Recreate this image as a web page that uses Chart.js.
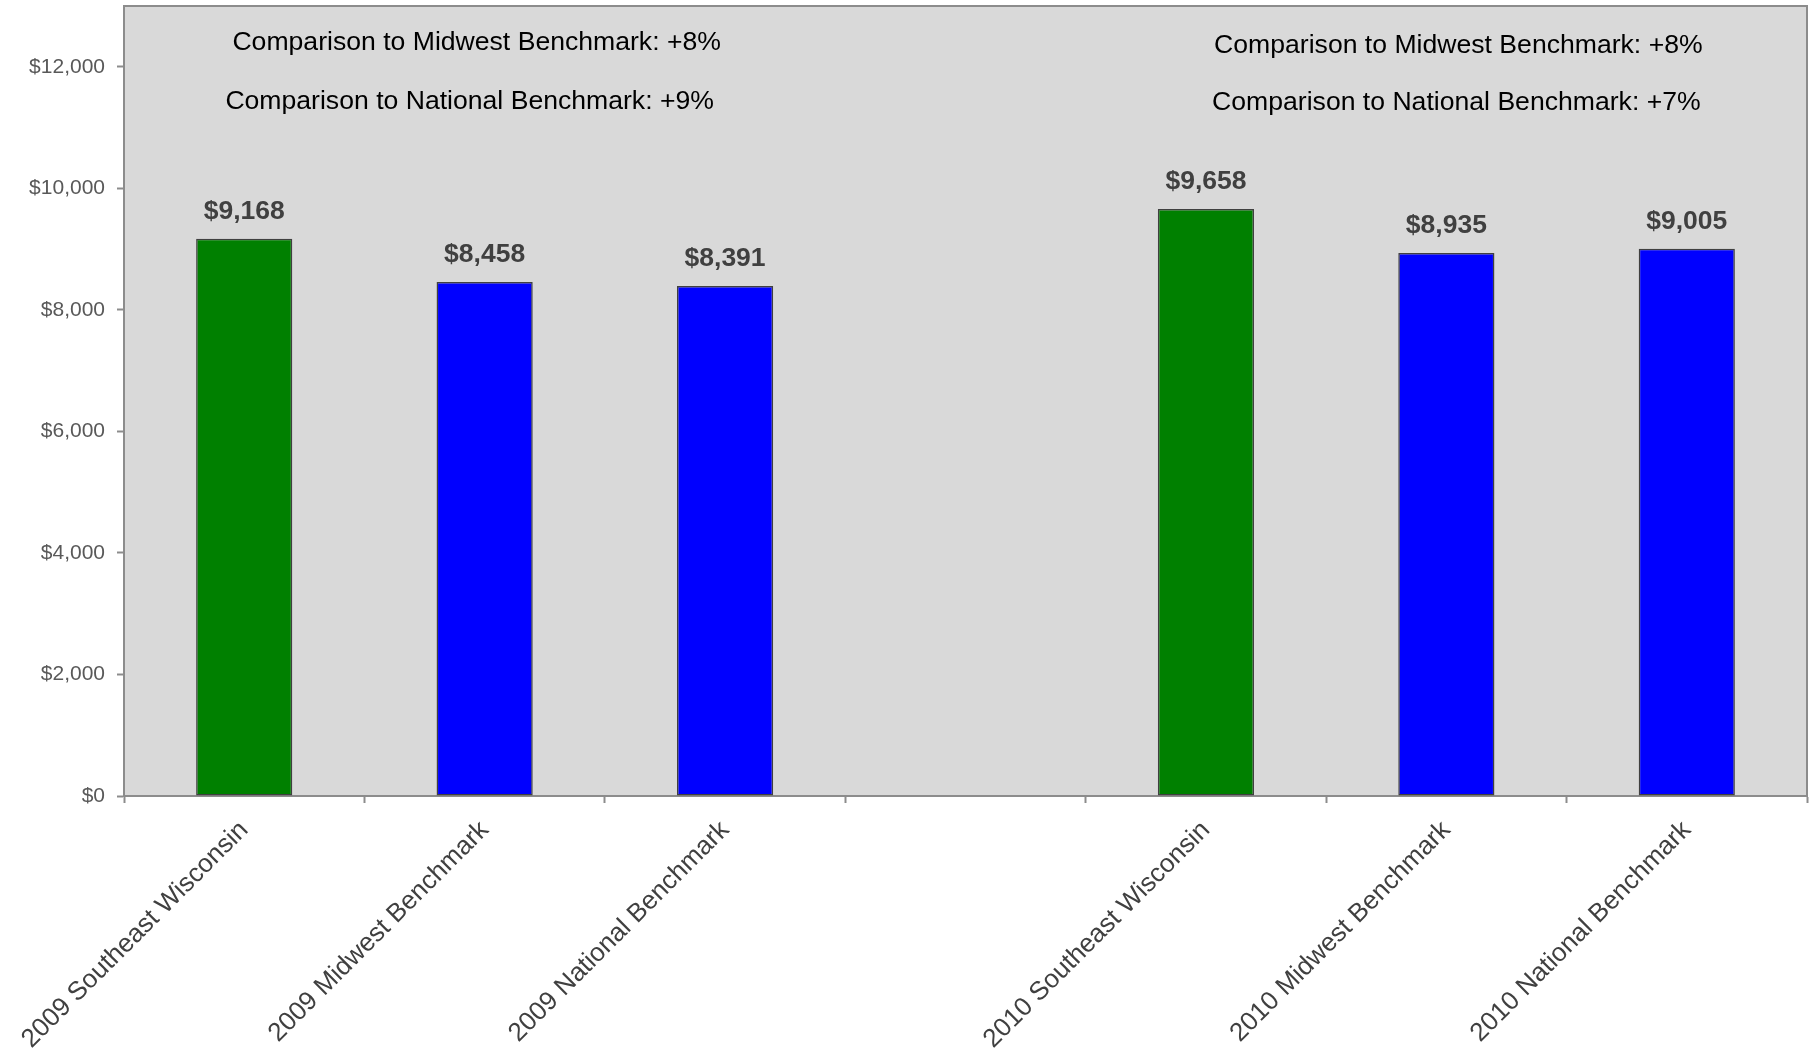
<!DOCTYPE html>
<html>
<head>
<meta charset="utf-8">
<script src="https://cdn.jsdelivr.net/npm/chart.js@4"></script>
<style>
  html, body { margin: 0; padding: 0; background: #ffffff; }
  #wrap { width: 1813px; height: 1051px; position: relative; }
</style>
</head>
<body>
<div id="wrap"><canvas id="chart"></canvas></div>
<script>
// Categorias (a posição vazia separa 2009 de 2010)
const categories = [
    '2009 Southeast Wisconsin', '2009 Midwest Benchmark', '2009 National Benchmark',
    '',
    '2010 Southeast Wisconsin', '2010 Midwest Benchmark', '2010 National Benchmark'
];
const values = [9168, 8458, 8391, null, 9658, 8935, 9005];
const barColors = ['#008000', '#0000ff', '#0000ff', '#0000ff', '#008000', '#0000ff', '#0000ff'];
const yTickValues = [0, 2000, 4000, 6000, 8000, 10000, 12000];

// Textos de comparação acima de cada grupo
const notes2009 = ['Comparison to Midwest Benchmark: +8%', 'Comparison to National Benchmark: +9%'];
const notes2010 = ['Comparison to Midwest Benchmark: +8%', 'Comparison to National Benchmark: +7%'];

const FONT = '"Liberation Sans", Arial, sans-serif';
const money = v => '$' + Number(v).toLocaleString('en-US');

// Fundo cinza e moldura da área do gráfico
const plotBackground = {
    id: 'plotBackground',
    beforeDraw(chart) {
        const { ctx, chartArea: a } = chart;
        ctx.save();
        ctx.fillStyle = '#d9d9d9';
        ctx.fillRect(a.left, a.top, a.right - a.left, a.bottom - a.top);
        ctx.strokeStyle = '#8c8c8c';
        ctx.lineWidth = 2;
        ctx.strokeRect(a.left, a.top, a.right - a.left, a.bottom - a.top);
        ctx.restore();
    }
};

// Rótulos de valor em cima das barras + notas de comparação
const valueLabels = {
    id: 'valueLabels',
    afterDatasetsDraw(chart) {
        const { ctx, chartArea: a } = chart;
        const meta = chart.getDatasetMeta(0);
        ctx.save();
        ctx.font = 'bold 26.5px ' + FONT;
        ctx.fillStyle = '#404040';
        ctx.textAlign = 'center';
        ctx.textBaseline = 'middle';
        meta.data.forEach((bar, i) => {
            if (values[i] == null) return;
            ctx.fillText(money(values[i]), bar.x, bar.y - 27);
        });

        const x = chart.scales.x;
        ctx.font = '26.6px ' + FONT;
        ctx.fillStyle = '#000000';
        notes2009.forEach((t, i) => {
            ctx.fillText(t, x.getPixelForValue(1) - 8 - i * 7, a.top + 37 + i * 59);
        });
        notes2010.forEach((t, i) => {
            ctx.fillText(t, x.getPixelForValue(5) + 12 - i * 2, a.top + 40 + i * 57);
        });
        ctx.restore();
    }
};

new Chart(document.getElementById('chart'), {
    type: 'bar',
    data: {
        labels: categories,
        datasets: [{
            data: values,
            backgroundColor: barColors,
            borderColor: '#404040',
            borderWidth: 1.5,
            borderSkipped: false,
            barPercentage: 0.8,
            categoryPercentage: 0.5
        }]
    },
    options: {
        responsive: true,
        maintainAspectRatio: false,
        animation: false,
        layout: { padding: { top: 6, right: 6, left: 0, bottom: 0 } },
        plugins: {
            legend: { display: false },
            tooltip: { enabled: false }
        },
        scales: {
            x: {
                grid: {
                    offset: true,
                    drawOnChartArea: false,
                    tickLength: 7,
                    tickColor: '#8c8c8c',
                    tickWidth: 2
                },
                border: { color: '#8c8c8c', width: 2 },
                ticks: {
                    minRotation: 45,
                    maxRotation: 45,
                    autoSkip: false,
                    padding: 12,
                    color: '#404040',
                    font: { family: FONT, size: 26 }
                },
                afterFit(scale) { scale.height = 255; }
            },
            y: {
                min: 0,
                max: 13000,
                grid: {
                    drawOnChartArea: false,
                    tickLength: 7,
                    tickColor: '#8c8c8c',
                    tickWidth: 2
                },
                border: { color: '#8c8c8c', width: 2 },
                afterBuildTicks(scale) {
                    scale.ticks = yTickValues.map(v => ({ value: v }));
                },
                ticks: {
                    padding: 12,
                    color: '#595959',
                    font: { family: FONT, size: 21 },
                    callback: v => money(v)
                },
                afterFit(scale) {
                    scale.width = 124;
                    scale.paddingTop = 0;
                    scale.paddingBottom = 0;
                }
            }
        }
    },
    plugins: [plotBackground, valueLabels]
});
</script>
</body>
</html>
